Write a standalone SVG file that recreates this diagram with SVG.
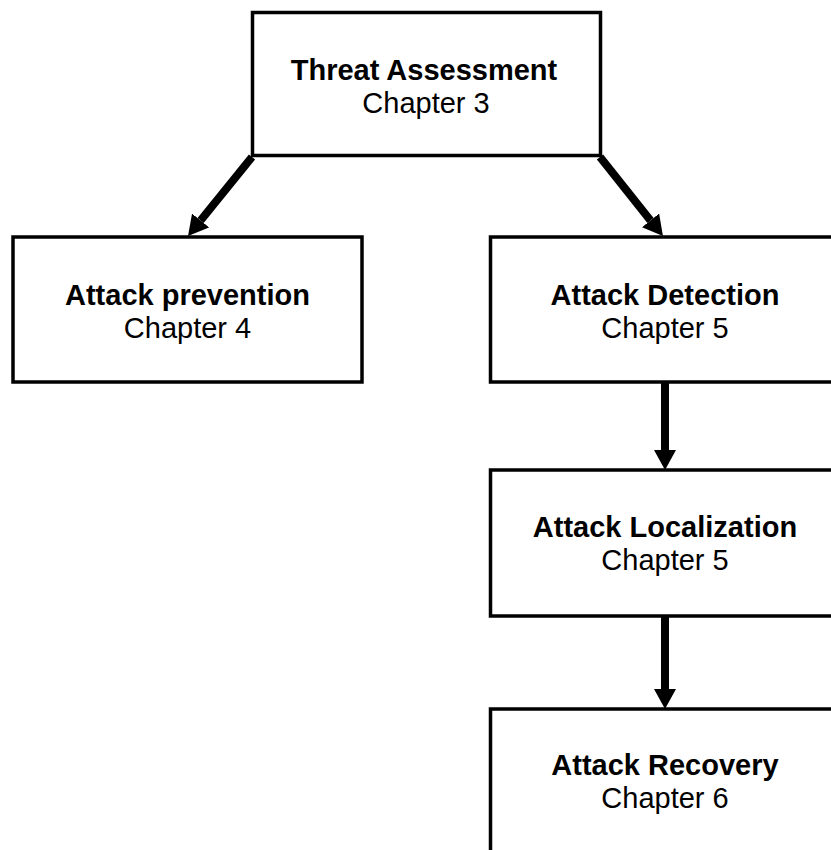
<svg xmlns="http://www.w3.org/2000/svg" width="831" height="850" viewBox="0 0 831 850">
<style>
.box{fill:#fff;stroke:#000;stroke-width:3.5}
.t{font-family:"Liberation Sans",Arial,sans-serif;font-size:29px;text-anchor:middle;fill:#000}
.b{font-weight:bold}
.c{fill:none;stroke:#000;stroke-width:8;marker-end:url(#ah)}
</style>
<defs>
<marker id="ah" markerUnits="userSpaceOnUse" markerWidth="20" markerHeight="22" viewBox="0 0 20 22" refX="0" refY="11" orient="auto">
<path d="M0,0 L20,11 L0,22 z" fill="#000"/>
</marker>
</defs>
<rect width="831" height="850" fill="#fff"/>
<g id="threat">
<rect class="box" x="252.5" y="12.5" width="348" height="143"/>
<text class="t b" x="424" y="80">Threat Assessment</text>
<text class="t" x="426" y="113">Chapter 3</text>
</g>
<g id="prevention">
<rect class="box" x="13" y="237" width="349" height="145"/>
<text class="t b" x="187.5" y="305">Attack prevention</text>
<text class="t" x="187.5" y="338">Chapter 4</text>
</g>
<g id="detection">
<rect class="box" x="490.5" y="237" width="349" height="145"/>
<text class="t b" x="665" y="305">Attack Detection</text>
<text class="t" x="665" y="338">Chapter 5</text>
</g>
<g id="localization">
<rect class="box" x="490.5" y="470" width="349" height="146"/>
<text class="t b" x="665" y="537">Attack Localization</text>
<text class="t" x="665" y="570">Chapter 5</text>
</g>
<g id="recovery">
<rect class="box" x="490.5" y="709" width="349" height="146"/>
<text class="t b" x="665" y="775">Attack Recovery</text>
<text class="t" x="665" y="808">Chapter 6</text>
</g>
<g id="connectors">
<line class="c" x1="252" y1="157" x2="200.6" y2="220.5"/>
<line class="c" x1="600" y1="157" x2="650.5" y2="220.4"/>
<line class="c" x1="665" y1="383" x2="665" y2="450"/>
<line class="c" x1="665" y1="617" x2="665" y2="689"/>
</g>
</svg>
